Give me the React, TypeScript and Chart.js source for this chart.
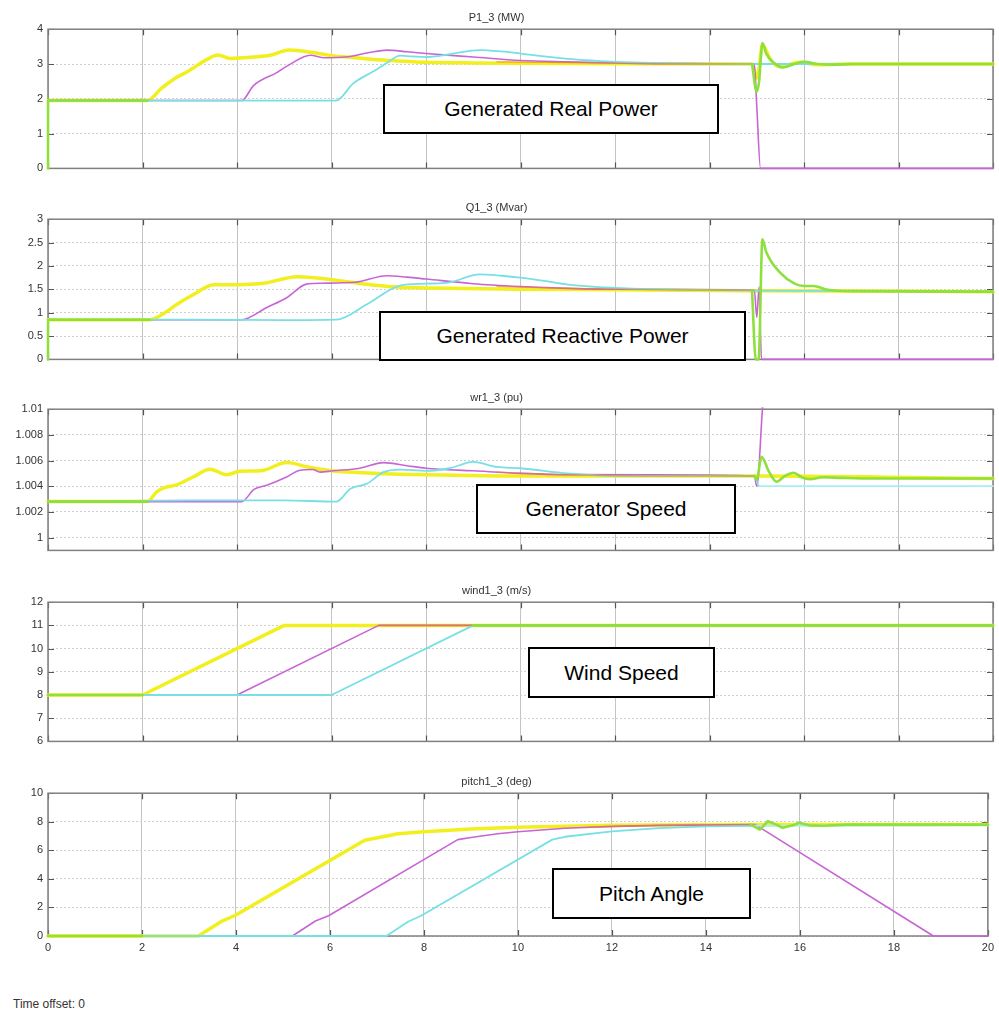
import React, { useEffect, useRef } from 'react';
import { Chart, registerables } from 'chart.js';
Chart.register(...registerables);

type Pt = [number, number | null];

// ---------- axis ticks ----------
const xTicks = [0, 2, 4, 6, 8, 10, 12, 14, 16, 18, 20];
const xTickLabels = ['0', '2', '4', '6', '8', '10', '12', '14', '16', '18', '20'];

const pTicks = [0, 1, 2, 3, 4];
const pTickLabels = ['0', '1', '2', '3', '4'];
const qTicks = [0, 0.5, 1, 1.5, 2, 2.5, 3];
const qTickLabels = ['0', '0.5', '1', '1.5', '2', '2.5', '3'];
const wrTicks = [1, 1.002, 1.004, 1.006, 1.008, 1.01];
const wrTickLabels = ['1', '1.002', '1.004', '1.006', '1.008', '1.01'];
const wsTicks = [6, 7, 8, 9, 10, 11, 12];
const wsTickLabels = ['6', '7', '8', '9', '10', '11', '12'];
const ptTicks = [0, 2, 4, 6, 8, 10];
const ptTickLabels = ['0', '2', '4', '6', '8', '10'];

// ---------- P1_3 (MW) ----------
const pYellow: Pt[] = [[0, 1.95], [2.1, 1.95], [2.4, 2.3], [2.7, 2.6], [2.95, 2.78], [3.35, 3.12], [3.6, 3.26], [3.85, 3.16], [4.35, 3.2], [4.7, 3.25], [5.1, 3.4], [5.6, 3.33], [6.0, 3.24], [6.5, 3.18], [7.0, 3.12], [7.5, 3.08], [8.0, 3.05], [9, 3.03], [10, 3.02], [12, 3.01], [14.9, 3.0], [15.0, 2.6], [15.05, 2.9], [15.12, 3.55], [15.3, 3.1], [15.5, 2.92], [15.9, 3.05], [16.3, 2.98], [17, 3.0], [20, 3.0]];
const pMagenta: Pt[] = [[0, 1.95], [4.1, 1.95], [4.35, 2.38], [4.85, 2.76], [5.12, 2.99], [5.55, 3.25], [5.85, 3.18], [6.3, 3.2], [6.8, 3.33], [7.17, 3.4], [7.6, 3.35], [8, 3.3], [9, 3.2], [10, 3.1], [11, 3.06], [12, 3.03], [13, 3.01], [14.95, 3.0], [15.0, 1.8], [15.08, 0], [20, 0]];
const pCyan: Pt[] = [[0, 1.95], [6.1, 1.95], [6.45, 2.43], [6.9, 2.8], [7.17, 3.03], [7.45, 3.24], [7.7, 3.22], [8.0, 3.2], [8.5, 3.28], [9.14, 3.4], [9.6, 3.36], [10, 3.3], [10.5, 3.22], [11, 3.15], [11.5, 3.1], [12, 3.06], [13, 3.03], [14.9, 3.0], [20, 3.0]];
const pRed: Pt[] = [[9.5, 3.06], [11, 3.04], [13, 3.01], [14.95, 3.0]];
const pGreen: Pt[] = [[0, 0], [0.001, 1.95], [2.1, 1.95], [8, null], [14.9, 3.0], [15.0, 2.2], [15.05, 2.5], [15.12, 3.6], [15.2, 3.3], [15.35, 3.05], [15.55, 2.9], [15.8, 3.0], [16.0, 3.06], [16.3, 3.0], [16.6, 2.98], [17, 3.0], [20, 3.0]];

// ---------- Q1_3 (Mvar) ----------
const qYellow: Pt[] = [[0, 0.85], [2.15, 0.85], [2.45, 0.98], [2.73, 1.18], [3.1, 1.4], [3.5, 1.6], [4.0, 1.6], [4.57, 1.63], [5.27, 1.77], [5.7, 1.74], [6.2, 1.68], [7.0, 1.58], [7.45, 1.54], [8, 1.53], [10, 1.5], [12, 1.49], [14.9, 1.47], [20, 1.45]];
const qMagenta: Pt[] = [[0, 0.85], [4.1, 0.85], [4.63, 1.11], [5.05, 1.32], [5.47, 1.61], [5.8, 1.63], [6.5, 1.65], [7.17, 1.79], [7.6, 1.76], [8, 1.72], [9, 1.62], [10, 1.56], [11, 1.52], [12, 1.5], [14.95, 1.48], [15.0, 0.9], [15.05, 1.55], [15.1, 0], [20, 0]];
const qCyan: Pt[] = [[0, 0.85], [3, 0.85], [5, 0.84], [6.1, 0.85], [6.75, 1.18], [7.45, 1.58], [8, 1.62], [8.5, 1.65], [9.14, 1.82], [9.6, 1.79], [10, 1.75], [10.5, 1.68], [11, 1.6], [12, 1.53], [13, 1.5], [14.9, 1.47], [20, 1.45]];
const qRed: Pt[] = [[9.5, 1.56], [11, 1.52], [13, 1.49], [14.95, 1.48]];
const qGreen: Pt[] = [[0, 0], [0.001, 0.85], [2.15, 0.85], [8, null], [14.9, 1.47], [14.98, 0], [15.04, 0], [15.12, 2.57], [15.2, 2.3], [15.5, 1.85], [15.8, 1.62], [16.0, 1.57], [16.2, 1.57], [16.5, 1.49], [17, 1.46], [20, 1.45]];

// ---------- wr1_3 (pu) ----------
const wrYellow: Pt[] = [[0, 1.0028], [2.1, 1.0028], [2.3, 1.00356], [2.45, 1.00387], [2.72, 1.0041], [3.07, 1.00472], [3.43, 1.00532], [3.78, 1.0049], [4.06, 1.00516], [4.5, 1.0052], [5.05, 1.00584], [5.5, 1.0055], [6, 1.0052], [7, 1.005], [8, 1.0049], [10, 1.0048], [15, 1.0048], [20, 1.0046]];
const wrMagenta: Pt[] = [[0, 1.0028], [4.1, 1.0028], [4.36, 1.00376], [4.63, 1.00408], [5.05, 1.00472], [5.33, 1.00524], [5.6, 1.0053], [5.76, 1.0051], [6.03, 1.0052], [6.6, 1.0054], [7.1, 1.00584], [7.6, 1.0056], [8, 1.0054], [9, 1.0052], [10, 1.005], [11, 1.0049], [14.95, 1.0048], [15.0, 1.004], [15.13, 1.0105], [15.2, 1.013]];
const wrCyan: Pt[] = [[0, 1.0028], [3, 1.0029], [5, 1.0029], [6.1, 1.0028], [6.4, 1.0038], [6.75, 1.0042], [7.1, 1.0051], [7.45, 1.0053], [8, 1.0052], [8.5, 1.0054], [9, 1.0059], [9.5, 1.0055], [10, 1.0054], [11, 1.005], [12, 1.0048], [14.95, 1.0048], [15.05, 1.004], [20, 1.004]];
const wrRed: Pt[] = [[9.5, 1.0051], [11, 1.0049], [13, 1.0048], [14.95, 1.0048]];
const wrGreen: Pt[] = [[0, 1.0028], [2.1, 1.0028], [8, null], [14.95, 1.0048], [15.0, 1.0045], [15.1, 1.0063], [15.25, 1.0052], [15.42, 1.00435], [15.6, 1.0048], [15.78, 1.00505], [15.95, 1.0047], [16.13, 1.00455], [16.4, 1.0047], [16.8, 1.00465], [17.5, 1.0046], [20, 1.0046]];

// ---------- wind1_3 (m/s) ----------
const wsYellow: Pt[] = [[0, 8], [2, 8], [5, 11], [20, 11]];
const wsMagenta: Pt[] = [[0, 8], [4, 8], [7, 11], [20, 11]];
const wsCyan: Pt[] = [[0, 8], [6, 8], [9, 11], [20, 11]];
const wsRed: Pt[] = [[7, 11], [9, 11]];
const wsGreen: Pt[] = [[0, 8], [2, 8], [5, null], [9, 11], [20, 11]];

// ---------- pitch1_3 (deg) ----------
const ptYellow: Pt[] = [[0, 0], [3.2, 0], [3.68, 1.0], [4.0, 1.47], [6.74, 6.7], [7.45, 7.16], [8, 7.3], [9, 7.5], [10, 7.62], [12, 7.75], [15, 7.8], [20, 7.8]];
const ptMagenta: Pt[] = [[0, 0], [5.2, 0], [5.69, 1.05], [5.97, 1.42], [8.72, 6.75], [9, 6.9], [9.57, 7.16], [10, 7.3], [11, 7.55], [12, 7.68], [13, 7.75], [15.05, 7.8], [18.84, 0], [20, 0]];
const ptCyan: Pt[] = [[0, 0], [7.2, 0], [7.66, 1.0], [7.94, 1.42], [10.73, 6.75], [11, 6.95], [12, 7.33], [13, 7.55], [14, 7.68], [15, 7.72], [20, 7.75]];
const ptRed: Pt[] = [[11.5, 7.6], [13, 7.74], [15, 7.8]];
const ptGreen: Pt[] = [[0, 0], [2, 0], [8, null], [14.95, 7.8], [15.15, 7.45], [15.32, 8.04], [15.5, 7.8], [15.63, 7.58], [15.85, 7.75], [15.98, 7.93], [16.2, 7.75], [16.5, 7.72], [17, 7.8], [20, 7.8]];

// ---------- styling ----------
const YELLOW = '#f2ef1e';
const MAGENTA = '#c765d4';
const CYAN = '#78e0e4';
const CYAN_FAINT = '#a8eef0';
const RED = 'rgba(238,125,35,0.65)';
const GREEN = '#8ee03c';
const FONT = "'Liberation Sans', Arial, sans-serif";

type PanelCfg = {
  title: string;
  min: number;
  max: number;
  ticks: number[];
  labels: string[];
  series: Pt[][]; // yellow, magenta, cyan, red, green
  smooth: boolean;
  top: number;
  bottom: number;
  box: { text: string; left: number; top: number; width: number; height: number };
};

const panels: PanelCfg[] = [
  { title: 'P1_3 (MW)', min: 0, max: 4, ticks: pTicks, labels: pTickLabels, series: [pYellow, pMagenta, pCyan, pRed, pGreen], smooth: true, top: 29, bottom: 172, box: { text: 'Generated Real Power', left: 383, top: 84, width: 336, height: 50 } },
  { title: 'Q1_3 (Mvar)', min: 0, max: 3, ticks: qTicks, labels: qTickLabels, series: [qYellow, qMagenta, qCyan, qRed, qGreen], smooth: true, top: 219, bottom: 363, box: { text: 'Generated Reactive Power', left: 379, top: 311, width: 367, height: 50 } },
  { title: 'wr1_3 (pu)', min: 0.999, max: 1.01, ticks: wrTicks, labels: wrTickLabels, series: [wrYellow, wrMagenta, wrCyan, wrRed, wrGreen], smooth: true, top: 409, bottom: 554, box: { text: 'Generator Speed', left: 476, top: 484, width: 260, height: 50 } },
  { title: 'wind1_3 (m/s)', min: 6, max: 12, ticks: wsTicks, labels: wsTickLabels, series: [wsYellow, wsMagenta, wsCyan, wsRed, wsGreen], smooth: false, top: 602, bottom: 745, box: { text: 'Wind Speed', left: 528, top: 647, width: 187, height: 51 } },
  { title: 'pitch1_3 (deg)', min: 0, max: 10, ticks: ptTicks, labels: ptTickLabels, series: [ptYellow, ptMagenta, ptCyan, ptRed, ptGreen], smooth: false, top: 793, bottom: 936, box: { text: 'Pitch Angle', left: 552, top: 868, width: 199, height: 51 } },
];

const TITLE_H = 20;

const framePlugin = {
  id: 'frame',
  beforeDatasetsDraw(chart: any) {
    const { ctx, chartArea, scales } = chart;
    const { left, right, top, bottom } = chartArea;
    const x = scales.x;
    const y = scales.y;
    ctx.save();
    ctx.strokeStyle = '#555';
    ctx.lineWidth = 1.2;
    x.ticks.forEach((t: any) => {
      const px = Math.round(x.getPixelForValue(t.value)) + 0.5;
      ctx.beginPath();
      ctx.moveTo(px, top);
      ctx.lineTo(px, top + 6);
      ctx.moveTo(px, bottom);
      ctx.lineTo(px, bottom - 6);
      ctx.stroke();
    });
    y.ticks.forEach((t: any) => {
      const py = Math.round(y.getPixelForValue(t.value)) + 0.5;
      ctx.beginPath();
      ctx.moveTo(left, py);
      ctx.lineTo(left + 6, py);
      ctx.moveTo(right, py);
      ctx.lineTo(right - 6, py);
      ctx.stroke();
    });
    ctx.strokeStyle = '#808080';
    ctx.lineWidth = 1.5;
    ctx.strokeRect(left, top, right - left, bottom - top);
    ctx.restore();
  },
};

function toXY(pts: Pt[]) {
  return pts.map(([x, y]) => ({ x, y }));
}

function Panel({ cfg, isLast }: { cfg: PanelCfg; isLast: boolean }) {
  const ref = useRef<HTMLCanvasElement | null>(null);
  const bottomSpace = isLast ? 20 : 8;
  const height = TITLE_H + (cfg.bottom - cfg.top) + bottomSpace;

  useEffect(() => {
    if (!ref.current) return;
    const [yel, mag, cya, red, grn] = cfg.series;
    const common = {
      pointRadius: 0,
      fill: false,
      borderCapStyle: 'round',
      borderJoinStyle: 'round',
      spanGaps: false,
      tension: 0,
      clip: 2,
      cubicInterpolationMode: cfg.smooth ? 'monotone' : 'default',
    };
    const chart = new Chart(ref.current, {
      type: 'line',
      data: {
        datasets: [
          { ...common, label: 'yellow', data: toXY(yel), borderColor: YELLOW, borderWidth: 3.5, order: 5 },
          { ...common, label: 'magenta', data: toXY(mag), borderColor: MAGENTA, borderWidth: 1.6, order: 4 },
          {
            ...common,
            label: 'cyan',
            data: toXY(cya),
            borderColor: CYAN,
            borderWidth: 1.8,
            order: 3,
            segment: { borderColor: (c: any) => (c.p0.parsed.x >= 15 ? CYAN_FAINT : CYAN) },
          },
          { ...common, label: 'red', data: toXY(red), borderColor: RED, borderWidth: 1.2, order: 2 },
          { ...common, label: 'green', data: toXY(grn), borderColor: GREEN, borderWidth: 2.6, order: 1 },
        ],
      } as any,
      options: {
        animation: false,
        responsive: false,
        maintainAspectRatio: false,
        events: [],
        layout: { padding: { left: 0, right: 6, top: 0, bottom: isLast ? 0 : 8 } },
        plugins: {
          legend: { display: false },
          tooltip: { enabled: false },
          title: {
            display: true,
            text: cfg.title,
            color: '#333',
            font: { family: FONT, size: 11, weight: 'normal' },
            padding: { top: 2, bottom: 5 },
          },
        },
        scales: {
          x: {
            type: 'linear',
            min: 0,
            max: 20,
            afterBuildTicks: (s: any) => {
              s.ticks = xTicks.map((v) => ({ value: v }));
            },
            afterFit: (s: any) => {
              s.height = isLast ? 20 : 0;
            },
            ticks: {
              display: isLast,
              autoSkip: false,
              maxRotation: 0,
              padding: 5,
              color: '#333',
              font: { family: FONT, size: 11 },
              callback: (_v: any, i: number) => xTickLabels[i],
            },
            grid: { color: '#c4c4c4', lineWidth: 1, drawTicks: false },
            border: { display: false },
          },
          y: {
            type: 'linear',
            min: cfg.min,
            max: cfg.max,
            afterBuildTicks: (s: any) => {
              s.ticks = cfg.ticks.map((v) => ({ value: v }));
            },
            afterFit: (s: any) => {
              s.width = 48;
            },
            ticks: {
              padding: 5,
              color: '#333',
              font: { family: FONT, size: 11 },
              callback: (_v: any, i: number) => cfg.labels[i],
            },
            grid: { color: '#cfcfcf', lineWidth: 1, drawTicks: false },
            border: { display: false, dash: [2, 2] },
          },
        },
      } as any,
      plugins: [framePlugin],
    });
    return () => chart.destroy();
  }, []);

  return (
    <>
      <canvas
        ref={ref}
        width={999}
        height={height}
        style={{ position: 'absolute', left: 0, top: cfg.top - TITLE_H, width: 999, height }}
      />
      <div
        style={{
          position: 'absolute',
          left: cfg.box.left,
          top: cfg.box.top,
          width: cfg.box.width,
          height: cfg.box.height,
          boxSizing: 'border-box',
          border: '2px solid #000',
          background: '#fff',
          display: 'flex',
          alignItems: 'center',
          justifyContent: 'center',
          fontFamily: FONT,
          fontSize: 21,
          color: '#000',
        }}
      >
        {cfg.box.text}
      </div>
    </>
  );
}

export default function App() {
  return (
    <div style={{ position: 'absolute', left: 0, top: 0, width: 999, height: 1010, background: '#fff', overflow: 'hidden' }}>
      {panels.map((p, i) => (
        <Panel key={p.title} cfg={p} isLast={i === panels.length - 1} />
      ))}
      <div
        style={{
          position: 'absolute',
          left: 13,
          top: 997,
          fontFamily: FONT,
          fontSize: 12,
          color: '#333',
          lineHeight: '14px',
        }}
      >
        Time offset: 0
      </div>
    </div>
  );
}
